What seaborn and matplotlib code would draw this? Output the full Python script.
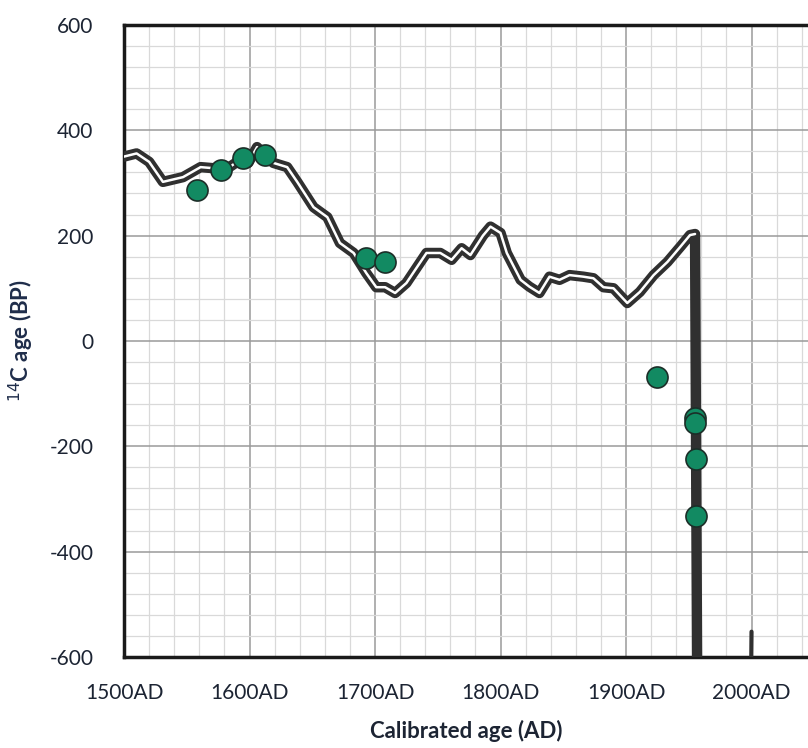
import numpy as np
import pandas as pd
import seaborn as sns
import matplotlib.pyplot as plt
from matplotlib.ticker import MultipleLocator, FuncFormatter

# calibration curve (year AD, 14C age BP)
curve_year = [1500, 1510, 1520, 1531, 1547, 1561, 1571, 1584, 1592, 1599, 1606,
              1619, 1630, 1638, 1651, 1662, 1672, 1683, 1693, 1701, 1708, 1716,
              1725, 1741, 1752, 1761, 1769, 1776, 1786, 1792, 1800, 1805, 1816,
              1823, 1831, 1839, 1847, 1855, 1866, 1874, 1882, 1890, 1901, 1911,
              1922, 1933, 1943, 1951, 1955, 1957, 1999, 2000]
curve_age = [350, 356, 340, 302, 311, 330, 328, 330, 343, 338, 368,
             338, 330, 302, 254, 235, 186, 167, 129, 102, 102, 91,
             110, 167, 167, 154, 176, 163, 200, 217, 205, 167, 116,
             103, 91, 122, 116, 125, 122, 119, 102, 100, 72, 93,
             125, 150, 178, 201, 203, -800, -800, -552]

# measured samples
sample_year = [1558, 1577, 1595, 1612, 1693, 1708, 1925, 1955, 1955, 1956, 1956]
sample_age = [287, 324, 347, 353, 158, 150, -68, -146, -156, -224, -332]

x_ticks = [1500, 1600, 1700, 1800, 1900, 2000]
y_ticks = [600, 400, 200, 0, -200, -400, -600]

curve = pd.DataFrame({'year': curve_year, 'age': curve_age})
samples = pd.DataFrame({'year': sample_year, 'age': sample_age})

sns.set_style('white')
plt.rcParams['font.family'] = ['Lato', 'DejaVu Sans']
plt.rcParams['axes.unicode_minus'] = False

fig = plt.figure(figsize=(8.08, 7.48), dpi=100)
ax = fig.add_axes([0.1535, 0.1217, 0.8465, 0.845])

main = curve[curve['year'] <= 1999]
sns.lineplot(data=main, x='year', y='age', color='#303030', lw=7.5,
             sort=False, ax=ax, zorder=3)
sns.lineplot(data=main[main['year'] <= 1955], x='year', y='age', color='white',
             lw=1.8, sort=False, ax=ax, zorder=4)
sns.lineplot(data=curve[curve['year'] >= 1999], x='year', y='age',
             color='#303030', lw=3, sort=False, ax=ax, zorder=3)

sns.scatterplot(data=samples, x='year', y='age', s=230, color='#128a62',
                edgecolor='#1c2e28', linewidth=1.2, ax=ax, zorder=5)

ax.set_xlim(1500, 2045)
ax.set_ylim(-600, 600)
ax.set_xticks(x_ticks)
ax.set_yticks(y_ticks)
ax.xaxis.set_major_formatter(FuncFormatter(lambda v, p: f"{int(v)}AD"))
ax.yaxis.set_major_formatter(FuncFormatter(lambda v, p: f"{int(v)}"))
ax.xaxis.set_minor_locator(MultipleLocator(20))
ax.yaxis.set_minor_locator(MultipleLocator(40))
ax.grid(which='major', color='#9a9a9a', lw=1.1)
ax.grid(which='minor', color='#d9d9d9', lw=0.9)
ax.set_axisbelow(True)
ax.tick_params(which='both', length=0)
ax.tick_params(axis='x', pad=19, labelsize=15, labelcolor='#1c2433')
ax.tick_params(axis='y', pad=22, labelsize=15, labelcolor='#1c2433')

for side in ['left', 'top', 'bottom']:
    ax.spines[side].set_color('#1a1a1a')
    ax.spines[side].set_linewidth(2.5)
ax.spines['right'].set_visible(False)

ax.set_xlabel('Calibrated age (AD)', fontsize=16, fontweight='bold',
              color='#1c2433', labelpad=12)
ax.set_ylabel('$^{14}$C age (BP)', fontsize=16, fontweight='bold',
              color='#1f2d4a', labelpad=10)

fig.savefig('out.png', dpi=100)
